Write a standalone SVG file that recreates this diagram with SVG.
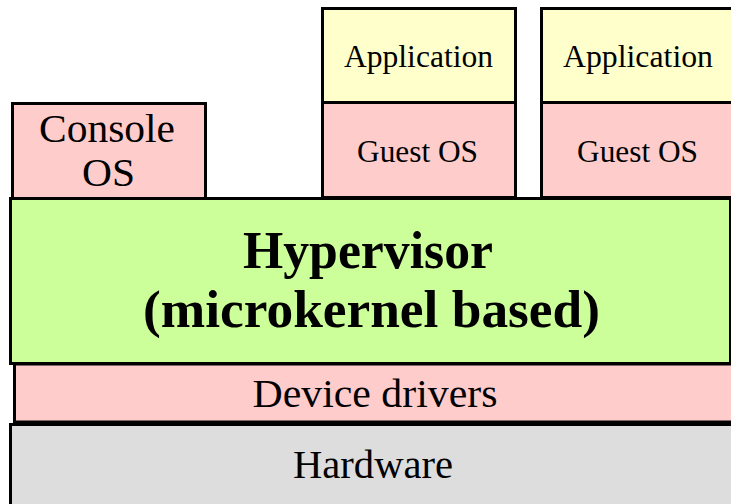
<svg xmlns="http://www.w3.org/2000/svg" width="731" height="504" viewBox="0 0 731 504">
<style>
  .box { stroke: #000; stroke-width: 3; }
  .pink { fill: #ffcccc; }
  .yellow { fill: #ffffcc; }
  .green { fill: #ccff99; }
  .gray { fill: #dddddd; }
  text { font-family: "Liberation Serif", "Times New Roman", serif; fill: #000; text-anchor: middle; }
  .t40 { font-size: 41px; }
  .t31 { font-size: 31px; }
  .bold { font-size: 52px; font-weight: bold; }
</style>
<rect width="731" height="504" fill="#ffffff"/>
<g id="hardware">
  <rect class="box gray" x="10.5" y="424.5" width="730" height="90"/>
  <text class="t40" x="373" y="478" textLength="160" lengthAdjust="spacingAndGlyphs">Hardware</text>
</g>
<g id="device-drivers">
  <rect class="box pink" x="14.5" y="364" width="726" height="58"/>
  <text class="t40" x="375" y="407" textLength="245" lengthAdjust="spacingAndGlyphs">Device drivers</text>
</g>
<g id="hypervisor">
  <rect class="box green" x="10.5" y="198.5" width="720" height="165"/>
  <text class="bold" x="368" y="268" textLength="250" lengthAdjust="spacingAndGlyphs">Hypervisor</text>
  <text class="bold" x="371.5" y="327" textLength="457" lengthAdjust="spacingAndGlyphs">(microkernel based)</text>
</g>
<g id="console-os">
  <rect class="box pink" x="12.5" y="103.5" width="193" height="95"/>
  <text class="t40" x="107" y="142" textLength="136" lengthAdjust="spacingAndGlyphs">Console</text>
  <text class="t40" x="108.5" y="186" textLength="53" lengthAdjust="spacingAndGlyphs">OS</text>
</g>
<g id="guest1">
  <rect class="box yellow" x="322.5" y="8.5" width="193" height="94"/>
  <rect class="box pink" x="322.5" y="102.5" width="193" height="95"/>
  <text class="t31" x="418.5" y="67" textLength="149" lengthAdjust="spacingAndGlyphs">Application</text>
  <text class="t31" x="417.5" y="162" textLength="121" lengthAdjust="spacingAndGlyphs">Guest OS</text>
</g>
<g id="guest2">
  <rect class="box yellow" x="541.5" y="8.5" width="193" height="94"/>
  <rect class="box pink" x="541.5" y="102.5" width="193" height="95"/>
  <text class="t31" x="638" y="67" textLength="150" lengthAdjust="spacingAndGlyphs">Application</text>
  <text class="t31" x="637.5" y="162" textLength="121" lengthAdjust="spacingAndGlyphs">Guest OS</text>
</g>
<g id="connectors"></g>
</svg>
